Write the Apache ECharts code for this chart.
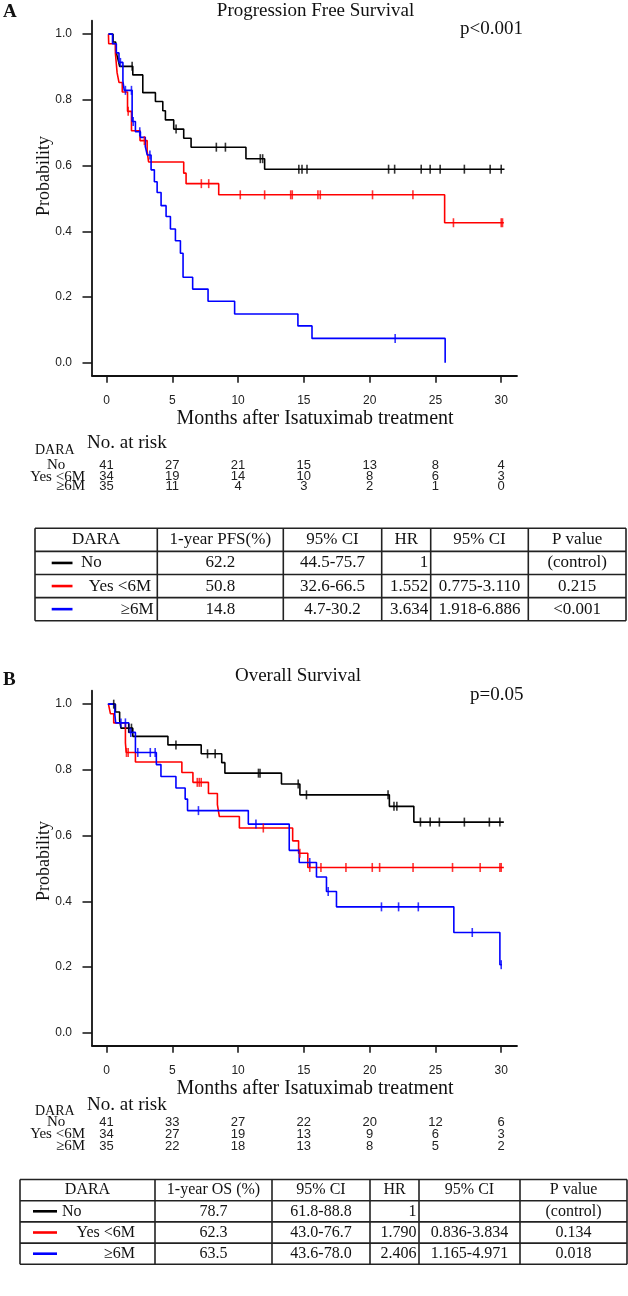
<!DOCTYPE html>
<html><head><meta charset="utf-8">
<script src="https://cdn.jsdelivr.net/npm/echarts@6/dist/echarts.min.js"></script>
<style>html,body{margin:0;padding:0;background:#fff}#c{width:628px;height:1296px}</style>
</head><body><div id="c"></div>
<script>
// ================= DATA =================
const xTicks = [0, 5, 10, 15, 20, 25, 30];
const yTicks = [0, 0.2, 0.4, 0.6, 0.8, 1.0];
const groups = ['No', 'Yes <6M', '\u22656M'];

// ---- A: Progression Free Survival (event times, survival after event, censor times)
const pfsNoT = [0.15, 0.5, 0.7, 0.85, 1.0, 2.0, 2.76, 3.72, 4.28, 4.48, 5.11, 5.87, 6.43, 10.6, 12.02, 30.25];
const pfsNoS = [1, 0.976, 0.951, 0.927, 0.902, 0.876, 0.822, 0.795, 0.767, 0.739, 0.711, 0.683, 0.656, 0.621, 0.589, 0.589];
const pfsNoC = [1.95, 5.29, 8.35, 9.04, 11.69, 11.87, 14.62, 14.86, 15.24, 21.44, 21.9, 23.92, 24.6, 25.36, 27.2, 29.16, 30.0];

const pfsYesT = [0.15, 0.17, 0.68, 0.81, 0.95, 1.2, 1.6, 1.9, 2.55, 3.09, 3.2, 5.87, 6.05, 8.53, 25.7, 30.2];
const pfsYesS = [1, 0.971, 0.941, 0.882, 0.853, 0.824, 0.765, 0.706, 0.676, 0.645, 0.611, 0.577, 0.545, 0.511, 0.426, 0.426];
const pfsYesC = [1.65, 2.88, 7.21, 7.77, 10.17, 12.02, 14.0, 14.12, 16.07, 16.25, 20.22, 23.29, 26.37, 30.0, 30.1];

const pfsLateT = [0.15, 0.46, 0.75, 0.95, 1.25, 1.35, 1.95, 2.2, 2.58, 2.95, 3.1, 3.39, 3.64, 3.85, 4.15, 4.53, 4.86, 5.24, 5.62, 5.82, 6.55, 7.72, 9.74, 14.55, 15.62, 25.74];
const pfsLateS = [1, 0.971, 0.943, 0.914, 0.857, 0.829, 0.734, 0.703, 0.686, 0.658, 0.632, 0.587, 0.551, 0.518, 0.478, 0.445, 0.407, 0.371, 0.333, 0.26, 0.224, 0.187, 0.148, 0.112, 0.074, 0.0];
const pfsLateC = [1.06, 1.44, 1.9, 2.03, 2.53, 3.3, 21.94];

const pfsRiskNo = [41, 27, 21, 15, 13, 8, 4];
const pfsRiskYes = [34, 19, 14, 10, 8, 6, 3];
const pfsRiskLate = [35, 11, 4, 3, 2, 1, 0];

const pfsHead = ['DARA', '1-year PFS(%)', '95% CI', 'HR', '95% CI', 'P value'];
const pfsRowNo = ['62.2', '44.5-75.7', '1', '', '(control)'];
const pfsRowYes = ['50.8', '32.6-66.5', '1.552', '0.775-3.110', '0.215'];
const pfsRowLate = ['14.8', '4.7-30.2', '3.634', '1.918-6.886', '<0.001'];

// ---- B: Overall Survival
const osNoT = [0.15, 0.68, 1.0, 1.1, 2.0, 4.67, 7.2, 8.76, 9.0, 13.3, 14.7, 21.5, 23.36, 30.2];
const osNoS = [1, 0.976, 0.951, 0.927, 0.902, 0.876, 0.849, 0.822, 0.79, 0.757, 0.724, 0.689, 0.641, 0.641];
const osNoC = [0.55, 1.69, 1.9, 5.28, 7.68, 8.26, 11.55, 11.67, 14.57, 15.2, 21.4, 21.85, 22.07, 23.86, 24.6, 25.3, 27.2, 29.1, 29.9];

const osYesT = [0.15, 0.3, 0.55, 1.44, 1.5, 2.2, 5.73, 6.57, 7.75, 8.43, 8.58, 10.1, 14.15, 14.6, 15.3, 30.2];
const osYesS = [1, 0.971, 0.943, 0.882, 0.853, 0.824, 0.792, 0.762, 0.728, 0.694, 0.658, 0.623, 0.584, 0.546, 0.503, 0.503];
const osYesC = [1.52, 1.65, 6.9, 7.05, 7.2, 11.92, 14.7, 15.45, 16.3, 18.2, 20.2, 20.76, 23.3, 26.3, 28.4, 29.9, 30.0];

const osLateT = [0.1, 0.63, 0.7, 1.7, 2.2, 3.79, 4.14, 5.28, 5.98, 6.16, 10.78, 13.89, 14.65, 15.96, 16.72, 17.48, 26.4, 29.9, 30.05];
const osLateS = [1, 0.971, 0.943, 0.914, 0.853, 0.816, 0.78, 0.745, 0.711, 0.676, 0.635, 0.555, 0.518, 0.474, 0.43, 0.383, 0.305, 0.207, 0.207];
const osLateC = [1.1, 1.44, 1.85, 2.38, 3.33, 3.7, 6.99, 11.36, 15.45, 16.85, 20.9, 22.2, 23.7, 27.8, 30.0];

const osRiskNo = [41, 33, 27, 22, 20, 12, 6];
const osRiskYes = [34, 27, 19, 13, 9, 6, 3];
const osRiskLate = [35, 22, 18, 13, 8, 5, 2];

const osHead = ['DARA', '1-year OS (%)', '95% CI', 'HR', '95% CI', 'P value'];
const osRowNo = ['78.7', '61.8-88.8', '1', '', '(control)'];
const osRowYes = ['62.3', '43.0-76.7', '1.790', '0.836-3.834', '0.134'];
const osRowLate = ['63.5', '43.6-78.0', '2.406', '1.165-4.971', '0.018'];

const titles = ['Progression Free Survival', 'Overall Survival'];
const pTexts = ['p<0.001', 'p=0.05'];
const panelLetters = ['A', 'B'];
const xTitle = 'Months after Isatuximab treatment';
const yTitle = 'Probability';

// ================= STYLE / LAYOUT =================
const SERIF = '"Liberation Serif","Times New Roman",serif';
const SANS = '"Liberation Sans",Arial,sans-serif';
const COLORS = ['#000000', '#ff0000', '#0000ff'];
const AX = '#111';

function survAt(T, S, t) {
  let v = S[0];
  for (let i = 0; i < T.length; i++) { if (T[i] <= t) v = S[i]; }
  return v;
}

function makeX(gi) {
  return {
    gridIndex: gi, type: 'value', min: -1.1, max: 31.2,
    axisLine: { show: true, onZero: false, lineStyle: { color: AX, width: 1.8 } },
    axisTick: { show: true, customValues: xTicks, length: 7, lineStyle: { color: AX, width: 1.5 } },
    axisLabel: { show: true, customValues: xTicks, margin: 19, fontFamily: SANS, fontSize: 12, color: '#222' },
    splitLine: { show: false }
  };
}
function makeY(gi) {
  return {
    gridIndex: gi, type: 'value', min: -0.0396, max: 1.041,
    axisLine: { show: true, onZero: false, lineStyle: { color: AX, width: 1.8 } },
    axisTick: { show: true, customValues: yTicks, length: 9.5, lineStyle: { color: AX, width: 1.5 } },
    axisLabel: { show: true, customValues: yTicks, margin: 20, fontFamily: SANS, fontSize: 12, color: '#222',
      formatter: v => Number(v).toFixed(1) },
    splitLine: { show: false }
  };
}
function curve(gi, T, S, color) {
  return { type: 'line', xAxisIndex: gi, yAxisIndex: gi, data: T.map((t, i) => [t, S[i]]),
    step: 'end', symbol: 'none', lineStyle: { color: color, width: 1.6 }, silent: true, animation: false, z: 3 };
}
function censor(gi, T, S, C, color) {
  return { type: 'scatter', xAxisIndex: gi, yAxisIndex: gi, data: C.map(c => [c, survAt(T, S, c)]),
    symbol: 'rect', symbolSize: [1.6, 9], itemStyle: { color: color }, silent: true, animation: false, z: 4 };
}

const chart = echarts.init(document.getElementById('c'), null, { renderer: 'canvas' });
chart.setOption({
  animation: false,
  backgroundColor: '#fff',
  grid: [
    { left: 92, top: 20.7, width: 425, height: 355 },
    { left: 92, top: 690.7, width: 425, height: 355 }
  ],
  xAxis: [makeX(0), makeX(1)],
  yAxis: [makeY(0), makeY(1)],
  series: [
    curve(0, pfsNoT, pfsNoS, COLORS[0]), censor(0, pfsNoT, pfsNoS, pfsNoC, COLORS[0]),
    curve(0, pfsYesT, pfsYesS, COLORS[1]), censor(0, pfsYesT, pfsYesS, pfsYesC, COLORS[1]),
    curve(0, pfsLateT, pfsLateS, COLORS[2]), censor(0, pfsLateT, pfsLateS, pfsLateC, COLORS[2]),
    curve(1, osNoT, osNoS, COLORS[0]), censor(1, osNoT, osNoS, osNoC, COLORS[0]),
    curve(1, osYesT, osYesS, COLORS[1]), censor(1, osYesT, osYesS, osYesC, COLORS[1]),
    curve(1, osLateT, osLateS, COLORS[2]), censor(1, osLateT, osLateS, osLateC, COLORS[2])
  ]
});

// ================= GRAPHIC (texts, risk tables, result tables) =================
const G = [];
function txt(x, y, s, opt) {
  opt = opt || {};
  G.push({ type: 'text', x: x, y: y, rotation: opt.rot || 0, silent: true, z: 10,
    style: { text: s, fontFamily: opt.family || SERIF, fontSize: opt.size || 17, fontWeight: opt.weight || 'normal',
      fill: opt.color || '#111', align: opt.align || 'left', verticalAlign: 'middle' } });
}
function ln(x1, y1, x2, y2, color, w) {
  G.push({ type: 'line', silent: true, z: 10, shape: { x1: x1, y1: y1, x2: x2, y2: y2 }, style: { stroke: color, lineWidth: w } });
}

const panels = [
  { gi: 0, dy: 0, risk: [pfsRiskNo, pfsRiskYes, pfsRiskLate], riskTitleY: 443, daraY: 450, riskY: [465, 476.7, 486.5], yTitleY: 176,
    table: { top: 528.3, rowH: 23.1, cols: [35, 157.3, 283.3, 381.7, 430.7, 528.3, 626], head: pfsHead, rows: [pfsRowNo, pfsRowYes, pfsRowLate],
      size: 17, leg: [51.7, 72.5], labX: [81, 151, 153.5] } },
  { gi: 1, dy: 670, risk: [osRiskNo, osRiskYes, osRiskLate], riskTitleY: 1105, daraY: 1111, riskY: [1122, 1134, 1146], yTitleY: 861,
    table: { top: 1179.5, rowH: 21.2, cols: [20, 155, 272, 370, 419, 520, 627], head: osHead, rows: [osRowNo, osRowYes, osRowLate],
      size: 16, leg: [33, 57], labX: [62, 135, 135] } }
];

panels.forEach((p, k) => {
  const dy = p.dy;
  txt(3, 12.5 + dy + (k ? -2 : 0), panelLetters[k], { size: 19, weight: 'bold' });
  txt(k ? 298 : 315.5, (k ? 676 : 11.5), titles[k], { size: 19, align: 'center' });
  txt(k ? 470 : 460, (k ? 695 : 29.5), pTexts[k], { size: 19 });
  txt(44, p.yTitleY, yTitle, { size: 18, align: 'center', rot: Math.PI / 2 });
  txt(315, 419 + dy, xTitle, { size: 20, align: 'center' });

  // number at risk
  txt(87, p.riskTitleY, 'No. at risk', { size: 19 });
  txt(35, p.daraY, 'DARA', { size: 14 });
  txt(47, p.riskY[0], groups[0], { size: 15 });
  txt(85, p.riskY[1], groups[1], { size: 15, align: 'right' });
  txt(85, p.riskY[2], groups[2], { size: 15, align: 'right' });
  p.risk.forEach((arr, r) => {
    arr.forEach((n, i) => {
      const x = chart.convertToPixel({ xAxisIndex: p.gi }, xTicks[i]);
      txt(x, p.riskY[r], String(n), { family: SANS, size: 13, align: 'center', color: '#222' });
    });
  });

  // result table
  const t = p.table;
  const nR = 4;
  const bw = 1.6, bc = '#222';
  for (let r = 0; r <= nR; r++) { const y = t.top + r * t.rowH; ln(t.cols[0], y, t.cols[6], y, bc, bw); }
  t.cols.forEach(x => ln(x, t.top, x, t.top + nR * t.rowH, bc, bw));
  t.head.forEach((h, c) => txt((t.cols[c] + t.cols[c + 1]) / 2, t.top + t.rowH / 2, h, { size: t.size, align: 'center' }));
  t.rows.forEach((row, r) => {
    const yc = t.top + (r + 1.5) * t.rowH;
    ln(t.leg[0], yc, t.leg[1], yc, COLORS[r], 2.6);
    if (r === 0) txt(t.labX[0], yc, groups[0], { size: t.size });
    else txt(t.labX[r], yc, groups[r], { size: t.size, align: 'right' });
    row.forEach((v, c) => {
      const col = c + 1;
      if (col === 3) txt(t.cols[col + 1] - 2.5, yc, v, { size: t.size, align: 'right' });
      else txt((t.cols[col] + t.cols[col + 1]) / 2, yc, v, { size: t.size, align: 'center' });
    });
  });
});

chart.setOption({ graphic: { elements: G } });
</script>
</body></html>
